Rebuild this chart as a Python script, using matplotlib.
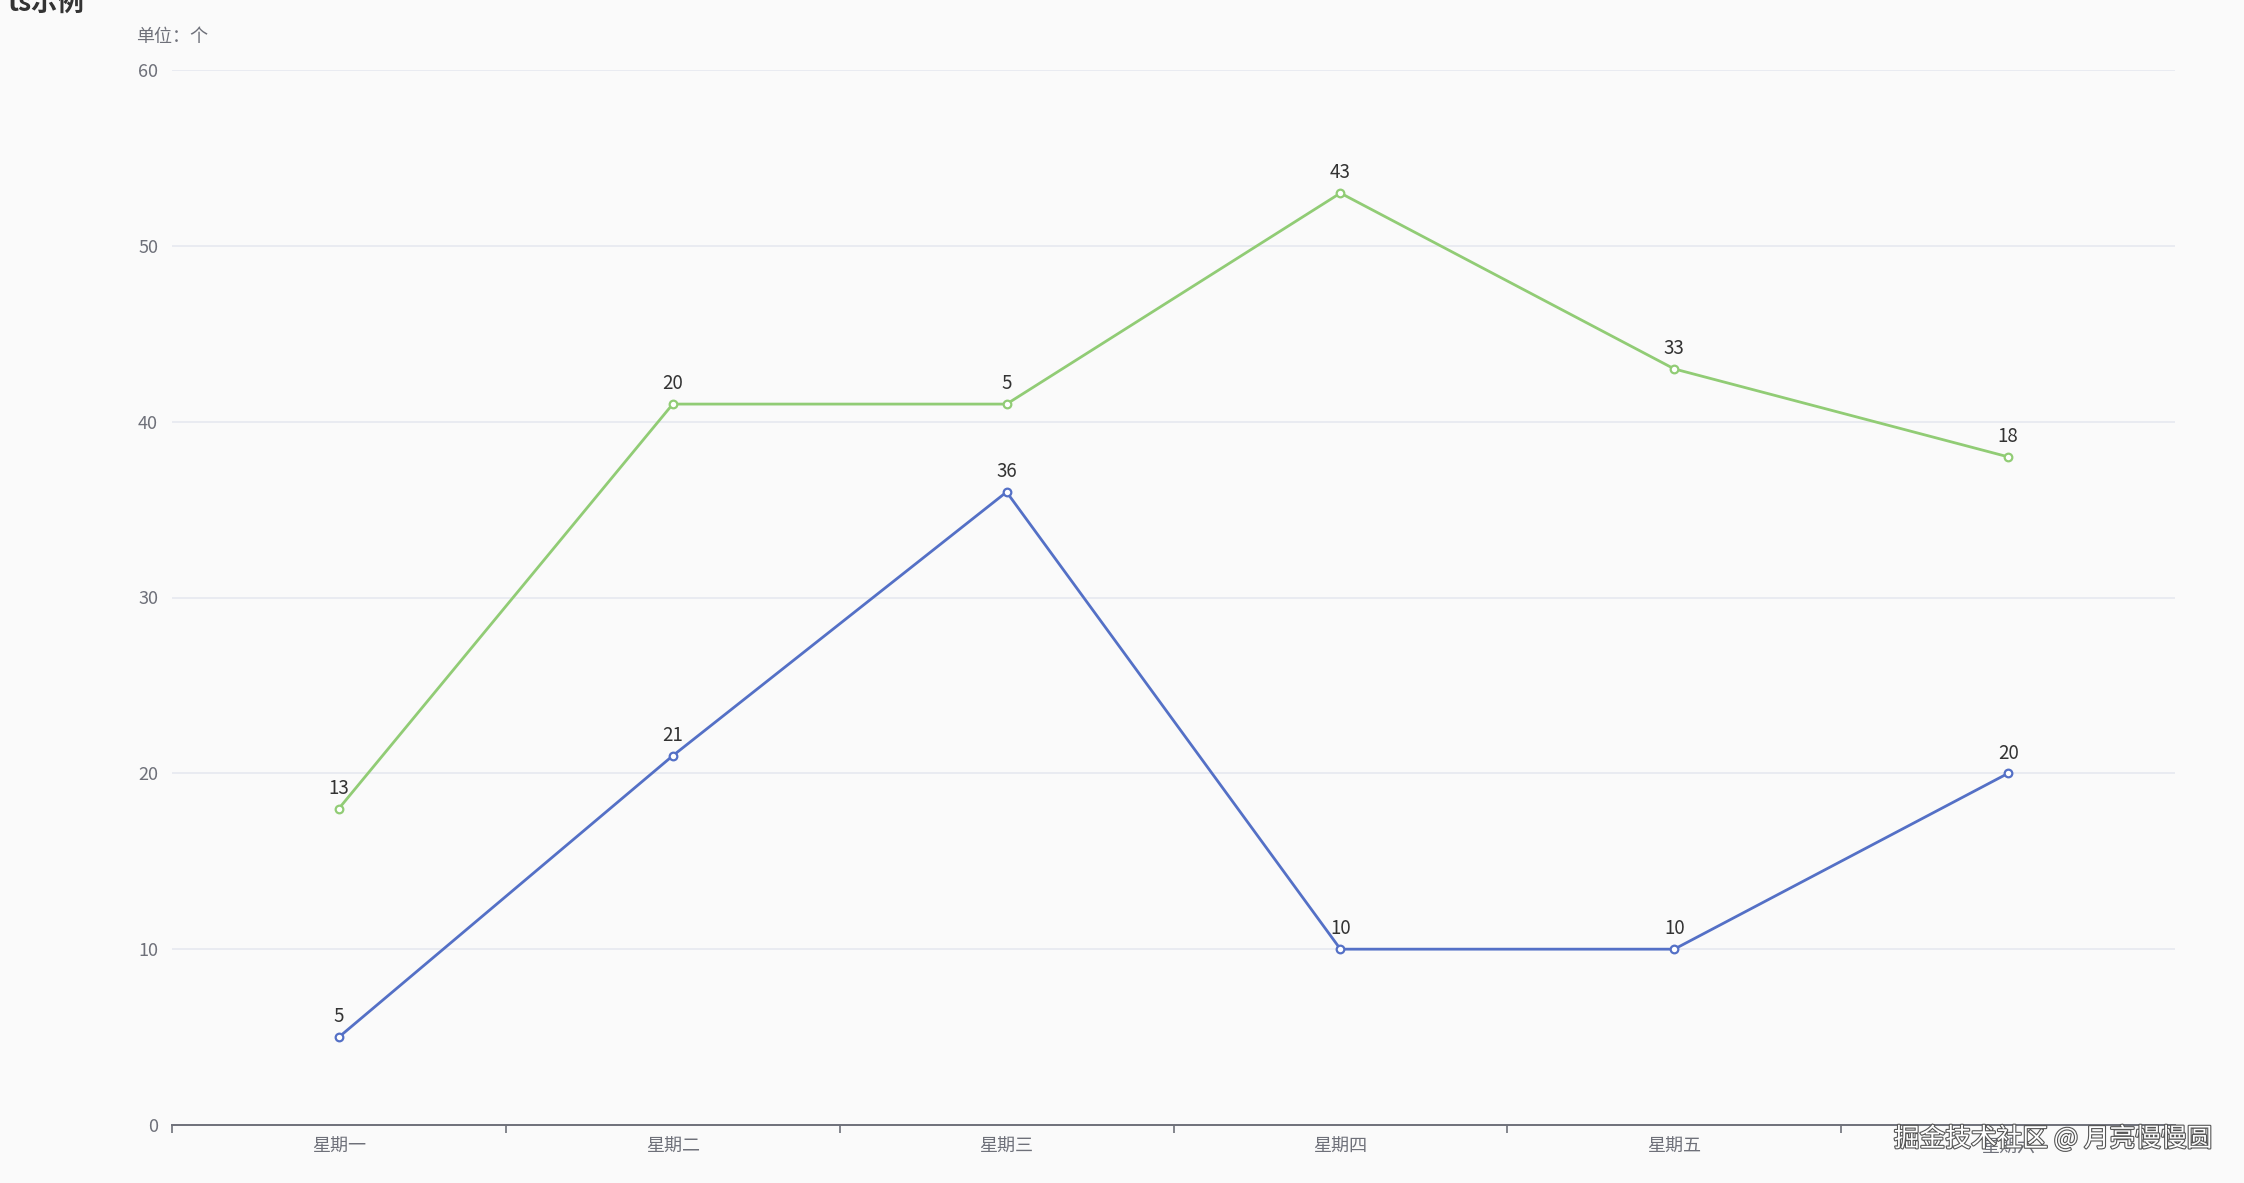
import numpy as np
import matplotlib
matplotlib.use('Agg')
import matplotlib.pyplot as plt
import matplotlib.patheffects as pe

plt.rcParams['font.family'] = ['Noto Sans CJK SC', 'DejaVu Sans']

days = ['星期一', '星期二', '星期三', '星期四', '星期五', '星期六']
series_a = [5, 21, 36, 10, 10, 20]      # blue, bottom of stack
series_b = [13, 20, 5, 43, 33, 18]      # green, stacked on blue
yticks = [0, 10, 20, 30, 40, 50, 60]

blue = '#5470c6'
green = '#91cc75'
axis_col = '#6e7079'
bg = '#fafafa'

W, H = 2244, 1183
fig = plt.figure(figsize=(W / 100, H / 100), dpi=100, facecolor=bg)
left, right, top, bottom = 172, 2175, 70, 1125
ax = fig.add_axes([left / W, 1 - bottom / H, (right - left) / W, (bottom - top) / H])
ax.set_facecolor(bg)

x = np.arange(len(days))
a = np.array(series_a)
b = a + np.array(series_b)

ax.plot(x, a, color=blue, lw=2, marker='o', ms=5.5, mfc='white', mec=blue, mew=1.6, zorder=3)
ax.plot(x, b, color=green, lw=2, marker='o', ms=5.5, mfc='white', mec=green, mew=1.6, zorder=3)

for xi, yi, v in zip(x, a, series_a):
    ax.annotate(str(v), (xi, yi), xytext=(0, 7), textcoords='offset points',
                ha='center', va='bottom', fontsize=13.5, color='#333333')
for xi, yi, v in zip(x, b, series_b):
    ax.annotate(str(v), (xi, yi), xytext=(0, 7), textcoords='offset points',
                ha='center', va='bottom', fontsize=13.5, color='#333333')

ax.set_xlim(-0.5, len(days) - 0.5)
ax.set_ylim(0, 60)
ax.set_yticks(yticks)
ax.yaxis.grid(True, color='#e6e9f0', lw=1.2)
ax.set_axisbelow(True)
ax.tick_params(axis='y', length=0, pad=10, labelsize=13, labelcolor=axis_col)

ax.set_xticks(np.arange(-0.5, len(days)), labels=[])
ax.set_xticks(x, labels=days, minor=True)
ax.tick_params(axis='x', which='major', length=6, width=1.2, color=axis_col, direction='out')
ax.tick_params(axis='x', which='minor', length=0, pad=9, labelsize=13, labelcolor=axis_col)

for s in ['top', 'right', 'left']:
    ax.spines[s].set_visible(False)
ax.spines['bottom'].set_color(axis_col)
ax.spines['bottom'].set_linewidth(1.4)

# title (cut off at the top edge) and unit label
fig.text(8 / W, 1 - 11 / H, 'ts示例', fontsize=19, fontweight='bold', color='#333333',
         ha='left', va='baseline')
fig.text(136 / W, 1 - 37 / H, '单位：个', fontsize=13, color=axis_col, ha='left', va='center')

# watermark
fig.text(2213 / W, 1 - 1139 / H, '掘金技术社区 @ 月亮慢慢圆', fontsize=18.5, color='white',
         ha='right', va='center',
         path_effects=[pe.Stroke(linewidth=1.6, foreground='#555555'), pe.Normal()])

fig.savefig('out.png', dpi=100, facecolor=bg)
